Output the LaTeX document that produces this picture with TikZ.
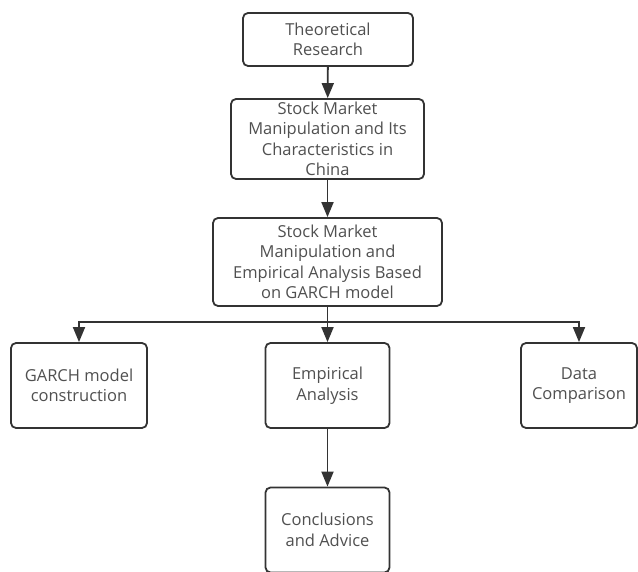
\documentclass[tikz,border=0pt]{standalone}
\usepackage{fontspec}
\setmainfont{Open Sans}
\usetikzlibrary{arrows.meta,positioning}
\definecolor{FlowLine}{RGB}{51,51,51}
\definecolor{FlowText}{RGB}{80,80,80}

\begin{document}
\begin{tikzpicture}[x=1pt,y=-1pt,
  box/.style={draw=FlowLine,line width=1.8pt,rounded corners=5pt,fill=white,
              align=center,text=FlowText,font=\fontsize{16.5}{20.5}\selectfont,inner sep=2pt},
  leaf/.style={box,minimum height=85pt},
  flow/.style={draw=FlowLine,line width=1.8pt,-{Triangle[length=15pt,width=12pt]}},
]
\useasboundingbox (0,0) rectangle (638,572);
\node[box,minimum width=170pt,minimum height=53pt] (theo) at (328,39.5) {Theoretical\\Research};
\node[box,minimum width=193pt,minimum height=80pt] (china) at (327.5,139) {Stock Market\\Manipulation and Its\\Characteristics in\\China};
\node[box,minimum width=229pt,minimum height=88pt] (garch) at (327.5,262) {Stock Market\\Manipulation and\\Empirical Analysis Based\\on GARCH model};
\node[leaf,minimum width=136pt] (model) at (79,385.5) {GARCH model\\construction};
\node[leaf,minimum width=124pt] (empir) at (327.5,385.5) {Empirical\\Analysis};
\node[leaf,minimum width=116pt] (data) at (579,385.5) {Data\\Comparison};
\node[leaf,minimum width=124pt] (concl) at (327.5,530) {Conclusions\\and Advice};
\coordinate (split) at (327.5,322);
\foreach \a/\b in {theo/china,china/garch,garch/empir,empir/concl}
  \draw[flow] (\a) -- (\b);
\draw[flow] (split) -| (model);
\draw[flow] (split) -| (data);
\end{tikzpicture}
\end{document}
